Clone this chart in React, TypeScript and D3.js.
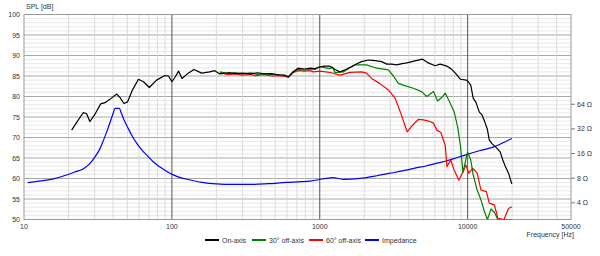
import React from "react";
import * as d3 from "d3";

type P = [number, number];

const onAxis: P[] = [[21,71.8],[23,74],[25.2,76.1],[26.5,75.8],[27.9,73.9],[30,75.5],[33,78.2],[35.3,78.5],[38.1,79.3],[42.3,80.6],[44.5,79.8],[47.4,78.3],[50.2,78.7],[54,81.5],[59.4,84.2],[64.3,83.6],[70.4,82.2],[78.8,84.0],[89.7,85.1],[95,85],[100,83.6],[105,84.7],[111,86.2],[117,84.4],[129,85.7],[141,86.6],[159,85.7],[180,86.0],[195,86.3],[211,85.5],[240,85.8],[270,85.6],[300,85.7],[340,85.5],[380,85.8],[420,85.5],[470,85.6],[530,85.3],[580,85.2],[613,84.8],[660,86.0],[712,86.9],[790,86.7],[860,86.9],[930,86.8],[1000,87.2],[1070,87.4],[1170,87.4],[1270,86.6],[1370,86.0],[1500,86.6],[1645,87.3],[1780,88.0],[1920,88.5],[2130,88.9],[2280,88.8],[2430,88.7],[2620,88.5],[2840,87.9],[3050,87.9],[3320,87.7],[3600,88.0],[3880,88.2],[4410,88.7],[4960,89.1],[5420,88.2],[6020,87.5],[6520,87.9],[7240,87.4],[7700,86.8],[8260,85.7],[8950,84.2],[9800,84.0],[10100,83.6],[10500,82.8],[10900,79.6],[11400,78.5],[12000,76.2],[12500,75.5],[13000,74.0],[13600,72.0],[14000,69.4],[14600,68.5],[15560,67.6],[16600,66.5],[17300,64.5],[18000,62.9],[18900,61.3],[19900,58.7]];

const offAxis30: P[] = [[211,86.0],[240,85.6],[270,85.8],[300,85.5],[340,85.8],[380,85.4],[420,85.6],[470,85.4],[530,85.3],[580,85.1],[613,84.8],[660,86.0],[712,86.6],[790,86.4],[860,86.7],[930,86.6],[1000,87.3],[1100,87.0],[1170,86.8],[1220,87.2],[1270,85.8],[1440,86.0],[1600,87.0],[1730,87.7],[2070,87.7],[2430,86.9],[2910,86.5],[3150,85.0],[3400,83.2],[3800,82.6],[4290,82.0],[4880,81.2],[5290,80.0],[5880,81.2],[6260,78.9],[6700,79.8],[7060,80.8],[7460,79.1],[8100,76.3],[8560,72.6],[8950,67.8],[9300,61.5],[9710,64.5],[9980,66.5],[10500,64.5],[10900,60.9],[11600,57.2],[12300,54.8],[13000,51.9],[13600,50],[14400,52.6],[15200,51.7],[16000,50],[20000,50]];

const offAxis60: P[] = [[211,85.8],[240,85.3],[270,85.5],[300,85.2],[340,85.4],[366,85.1],[420,85.3],[470,85.0],[530,85.1],[580,84.9],[613,84.7],[660,85.8],[712,86.3],[790,86.2],[860,86.3],[905,86.0],[1000,86.2],[1100,86.0],[1200,85.8],[1370,85.2],[1600,85.9],[1920,86.0],[2070,85.7],[2240,84.4],[2540,83.2],[2910,81.6],[3230,79.6],[3500,76.3],[3900,71.4],[4190,72.8],[4640,74.4],[5020,74.3],[5290,74.1],[5570,73.9],[5880,73.5],[6190,71.8],[6600,71.2],[7060,68.0],[7240,62.9],[7680,64.5],[8100,62.1],[8720,59.6],[9430,62.1],[9710,63.3],[10200,61.3],[10800,62.5],[11600,61.3],[12300,57.2],[13400,56.8],[14000,54.0],[15200,53.5],[16000,50.3],[17600,50.0],[18900,52.7],[19900,53.1]];

const impedance: P[] = [[10.6,7.04],[13,7.4],[16,7.9],[19.4,8.74],[22,9.5],[25.2,10.4],[27.5,11.8],[29.4,13.6],[31,15.6],[32.7,18.5],[34.4,23],[36.3,29.6],[38.1,38],[40,49],[41.3,57],[44.1,57],[45.5,50],[47.5,41],[50,34],[54,26],[57.9,21.3],[63,17.5],[69.3,14.6],[75,12.6],[82.7,11.0],[96.9,9.17],[110,8.3],[129,7.7],[160,7.1],[200,6.8],[260,6.7],[355,6.7],[450,6.85],[595,7.1],[750,7.25],[860,7.38],[1000,7.7],[1110,7.97],[1230,8.1],[1440,7.75],[1870,7.97],[2430,8.57],[3000,9.2],[3680,9.87],[4400,10.6],[5290,11.35],[6200,12.2],[7240,13.07],[8500,14.3],[9980,15.65],[12000,17.3],[15200,19.4],[17500,21.8],[19900,24.5]];

const xTickValues = [10, 100, 1000, 10000, 50000];
const yTickValues = [50, 55, 60, 65, 70, 75, 80, 85, 90, 95, 100];
const zTickValues = [4, 8, 16, 32, 64];
const legendLabels = ["On-axis", "30° off-axis", "60° off-axis", "Impedance"];
const seriesColors = ["#000000", "#008000", "#ff0000", "#0000ff"];

const L = 24, R = 571, T = 14.5, B = 219.5;

export default function App() {
  const x = d3.scaleLog().domain([10, 50000]).range([L, R]);
  const y = d3.scaleLinear().domain([50, 100]).range([B, T]);
  const z = d3.scaleLog().base(2).domain([2.5, 800]).range([B, T]);

  const spl = d3.line<P>().x(d => x(d[0])).y(d => y(d[1]));
  const imp = d3.line<P>().x(d => x(d[0])).y(d => z(d[1])).curve(d3.curveMonotoneX);

  const minorX: number[] = [];
  for (let dec = 10; dec < 50000; dec *= 10) {
    for (let k = 2; k <= 9; k++) { const f = dec * k; if (f < 50000) minorX.push(f); }
  }
  const minorY = d3.range(50, 101, 1);
  const font = "Arial, 'Liberation Sans', sans-serif";

  return (
    <svg width={600} height={256} style={{ display: "block", position: "absolute", left: 0, top: 0 }} fontFamily={font}>
      <rect width={600} height={256} fill="#fff" />
      <defs>
        <clipPath id="plot"><rect x={L} y={T} width={R - L} height={B - T} /></clipPath>
      </defs>
      {minorY.map(v => (
        <line key={"my" + v} x1={L} x2={R} y1={y(v)} y2={y(v)} stroke={v % 5 === 0 ? "#a8a8a8" : "#e2e2e2"} strokeWidth={v % 5 === 0 ? 1.2 : 0.8} />
      ))}
      {minorX.map(f => (
        <line key={"mx" + f} x1={x(f)} x2={x(f)} y1={T} y2={B} stroke="#d4d4d4" strokeWidth={0.8} />
      ))}
      {[100, 1000, 10000].map(f => (
        <line key={"Mx" + f} x1={x(f)} x2={x(f)} y1={T} y2={B} stroke="#555" strokeWidth={1} />
      ))}
      <rect x={L} y={T} width={R - L} height={B - T} fill="none" stroke="#999" strokeWidth={1} />
      <g clipPath="url(#plot)" fill="none" strokeWidth={1.2} strokeLinejoin="round">
        <path d={imp(impedance) || ""} stroke={seriesColors[3]} />
        <path d={spl(offAxis60) || ""} stroke={seriesColors[2]} />
        <path d={spl(offAxis30) || ""} stroke={seriesColors[1]} />
        <path d={spl(onAxis) || ""} stroke={seriesColors[0]} />
      </g>
      <g fontSize={7} fill="#333">
        <text x={26} y={9}>SPL [dB]</text>
        {yTickValues.map(v => (
          <text key={"yt" + v} x={20} y={y(v) + 2.5} textAnchor="end">{v}</text>
        ))}
        {xTickValues.map(f => (
          <text key={"xt" + f} x={x(f)} y={229} textAnchor="middle">{f}</text>
        ))}
        <text x={574} y={237} textAnchor="end">Frequency [Hz]</text>
        {zTickValues.map(v => (
          <g key={"zt" + v}>
            <line x1={R} x2={R + 4} y1={z(v)} y2={z(v)} stroke="#777" />
            <text x={577} y={z(v) + 2.5}>{v + " Ω"}</text>
          </g>
        ))}
      </g>
      <g fontSize={7} fill="#333">
        {legendLabels.map((lab, i) => {
          const lx = [205, 252, 309, 365][i];
          return (
            <g key={lab}>
              <line x1={lx} x2={lx + 14} y1={240} y2={240} stroke={seriesColors[i]} strokeWidth={2} />
              <text x={lx + 17} y={242.5}>{lab}</text>
            </g>
          );
        })}
      </g>
    </svg>
  );
}
